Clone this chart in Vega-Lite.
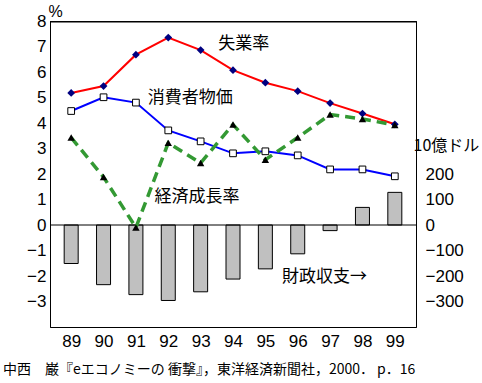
{
  "$schema": "https://vega.github.io/schema/vega-lite/v6.json",
  "width": 366,
  "height": 306,
  "autosize": {"type": "none"},
  "padding": {"left": 50, "top": 21, "right": 66, "bottom": 56},
  "background": "white",
  "config": {
    "view": {"stroke": "black", "strokeWidth": 1},
    "axis": {"labelFont": "Liberation Sans", "labelColor": "black", "grid": false, "titleColor": "black", "labelOverlap": false}
  },
  "title": {
    "text": "中西　巌『eエコノミーの 衝撃』，東洋経済新聞社，2000．  p．16",
    "orient": "bottom",
    "anchor": "start",
    "frame": "group",
    "dx": -47,
    "offset": 14,
    "font": "Noto Sans CJK JP",
    "fontSize": 14,
    "fontWeight": "normal",
    "color": "black"
  },
  "datasets": {
    "d": [
      {"year": 89, "unemp": 5.18, "cpi": 4.47, "growth": 3.43, "budget": -151},
      {"year": 90, "unemp": 5.45, "cpi": 5.01, "growth": 1.88, "budget": -234},
      {"year": 91, "unemp": 6.68, "cpi": 4.80, "growth": -0.1, "budget": -273},
      {"year": 92, "unemp": 7.35, "cpi": 3.71, "growth": 3.22, "budget": -296},
      {"year": 93, "unemp": 6.86, "cpi": 3.28, "growth": 2.43, "budget": -262},
      {"year": 94, "unemp": 6.07, "cpi": 2.81, "growth": 3.94, "budget": -212},
      {"year": 95, "unemp": 5.58, "cpi": 2.89, "growth": 2.56, "budget": -172},
      {"year": 96, "unemp": 5.25, "cpi": 2.73, "growth": 3.43, "budget": -113},
      {"year": 97, "unemp": 4.78, "cpi": 2.18, "growth": 4.33, "budget": -22},
      {"year": 98, "unemp": 4.37, "cpi": 2.18, "growth": 4.16, "budget": 69},
      {"year": 99, "unemp": 3.95, "cpi": 1.91, "growth": 3.92, "budget": 128}
    ],
    "labels": [
      {"label": "失業率", "x": 94.33, "y": 7.09},
      {"label": "消費者物価", "x": 92.68, "y": 5.0},
      {"label": "経済成長率", "x": 92.89, "y": 1.08},
      {"label": "財政収支→", "x": 96.83, "y": -2.05}
    ],
    "refs": [{"v": 0}],
    "frameTop": [{"v": 7.97}]
  },
  "resolve": {"scale": {"y": "independent"}, "axis": {"x": "independent"}},
  "layer": [
    {
      "data": {"name": "d"},
      "mark": {"type": "bar", "size": 14, "fill": "#C0C0C0", "stroke": "black", "strokeWidth": 1},
      "encoding": {
        "x": {
          "field": "year", "type": "quantitative",
          "scale": {"domain": [88.5, 99.5], "nice": false, "zero": false},
          "axis": {"values": [89,90,91,92,93,94,95,96,97,98,99], "format": "d", "title": null, "ticks": false, "domain": false, "labelFontSize": 17, "labelPadding": 6, "labelOverlap": false}
        },
        "y": {
          "field": "budget", "type": "quantitative",
          "scale": {"domain": [-400, 800], "nice": false, "zero": false},
          "axis": {
            "orient": "right", "values": [-300, -200, -100, 0, 100, 200], "ticks": false, "domain": true, "domainColor": "black",
            "labelAlign": "left", "labelPadding": 9, "labelFontSize": 17, "labelOverlap": false,
            "title": "10億ドル", "titleAngle": 0, "titleAlign": "left", "titleBaseline": "middle",
            "titleX": -3, "titleY": 124, "titleFont": "Noto Sans CJK JP", "titleFontSize": 16, "titleFontWeight": "normal"
          }
        }
      }
    },
    {
      "resolve": {"axis": {"x": "independent", "y": "independent"}},
      "layer": [
        {
          "data": {"name": "refs"},
          "mark": {"type": "rule", "color": "black", "strokeWidth": 1},
          "encoding": {
            "y": {
              "field": "v", "type": "quantitative",
              "scale": {"domain": [-4, 8], "nice": false, "zero": false},
              "axis": {
                "orient": "left", "values": [-3,-2,-1,0,1,2,3,4,5,6,7,8], "ticks": false, "domain": true, "domainColor": "black",
                "labelFontSize": 17, "labelPadding": 4, "labelOverlap": false,
                "title": "%", "titleAngle": 0, "titleAlign": "center", "titleBaseline": "middle",
                "titleX": 5, "titleY": -10, "titleFont": "Liberation Sans", "titleFontSize": 16, "titleFontWeight": "normal"
              }
            }
          }
        },
        {
          "data": {"name": "frameTop"},
          "mark": {"type": "rule", "color": "black", "strokeWidth": 1.5},
          "encoding": {"y": {"field": "v", "type": "quantitative", "axis": null}}
        },
        {
          "data": {"name": "d"},
          "mark": {"type": "line", "color": "#FF0000", "strokeWidth": 2},
          "encoding": {
            "x": {"field": "year", "type": "quantitative", "axis": {"orient": "top", "labels": false, "ticks": false, "domain": true, "domainColor": "black", "title": null}},
            "y": {"field": "unemp", "type": "quantitative", "axis": null}
          }
        },
        {
          "data": {"name": "d"},
          "mark": {"type": "line", "color": "#0000FF", "strokeWidth": 2},
          "encoding": {
            "x": {"field": "year", "type": "quantitative", "axis": null},
            "y": {"field": "cpi", "type": "quantitative", "axis": null}
          }
        },
        {
          "data": {"name": "d"},
          "mark": {"type": "line", "color": "#339933", "strokeWidth": 3.5, "strokeDash": [10, 6]},
          "encoding": {
            "x": {"field": "year", "type": "quantitative", "axis": null},
            "y": {"field": "growth", "type": "quantitative", "axis": null}
          }
        },
        {
          "data": {"name": "d"},
          "mark": {"type": "point", "shape": "diamond", "filled": true, "color": "#000080", "size": 60, "opacity": 1},
          "encoding": {
            "x": {"field": "year", "type": "quantitative", "axis": null},
            "y": {"field": "unemp", "type": "quantitative", "axis": null}
          }
        },
        {
          "data": {"name": "d"},
          "mark": {"type": "point", "shape": "square", "filled": true, "fill": "white", "stroke": "black", "strokeWidth": 1, "size": 45, "opacity": 1},
          "encoding": {
            "x": {"field": "year", "type": "quantitative", "axis": null},
            "y": {"field": "cpi", "type": "quantitative", "axis": null}
          }
        },
        {
          "data": {"name": "d"},
          "mark": {"type": "point", "shape": "triangle-up", "filled": true, "color": "black", "size": 55, "opacity": 1},
          "encoding": {
            "x": {"field": "year", "type": "quantitative", "axis": null},
            "y": {"field": "growth", "type": "quantitative", "axis": null}
          }
        },
        {
          "data": {"name": "labels"},
          "mark": {"type": "text", "font": "Noto Sans CJK JP", "fontSize": 17, "color": "black", "align": "center", "baseline": "middle"},
          "encoding": {
            "x": {"field": "x", "type": "quantitative", "axis": null},
            "y": {"field": "y", "type": "quantitative", "axis": null},
            "text": {"field": "label"}
          }
        }
      ]
    }
  ]
}
